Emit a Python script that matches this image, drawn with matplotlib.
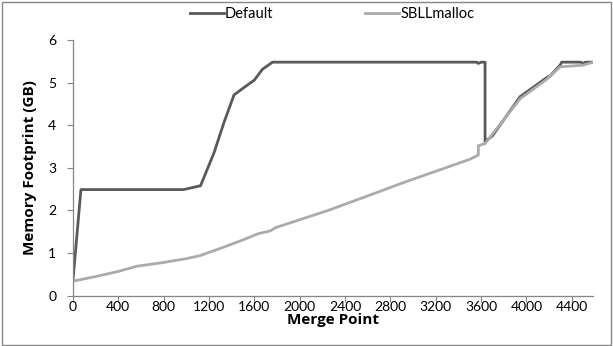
import matplotlib.pyplot as plt
from matplotlib.patches import Rectangle

plt.rcParams['font.family'] = ['Lato', 'DejaVu Sans']

# Default allocator
x_default = [0, 70, 975, 1125, 1245, 1330, 1420, 1480, 1600, 1670, 1760,
             3560, 3576, 3600, 3635, 3635, 3700, 3944, 4180, 4210, 4300, 4311,
             4480, 4500, 4520, 4590]
y_default = [0.37, 2.49, 2.49, 2.58, 3.36, 4.05, 4.71, 4.83, 5.06, 5.31, 5.48,
             5.48, 5.45, 5.48, 5.48, 3.62, 3.75, 4.67, 5.12, 5.16, 5.42, 5.48,
             5.48, 5.45, 5.48, 5.48]

# SBLLmalloc
x_sbll = [0, 200, 400, 480, 560, 800, 1000, 1120, 1300, 1480, 1640, 1740,
          1790, 2250, 2700, 2890, 3500, 3576, 3576, 3635, 3944, 4180, 4297,
          4500, 4590]
y_sbll = [0.34, 0.45, 0.57, 0.63, 0.69, 0.78, 0.87, 0.94, 1.11, 1.29, 1.46,
          1.52, 1.60, 2.00, 2.44, 2.63, 3.20, 3.30, 3.52, 3.57, 4.62, 5.08,
          5.37, 5.41, 5.48]

fig = plt.figure(figsize=(6.13, 3.46), dpi=100)
ax = fig.add_axes([73 / 613, 1 - 295.7 / 346, (593.3 - 73) / 613, (295.7 - 40) / 346])

ax.plot(x_default, y_default, color='#595959', lw=2.0, label='Default')
ax.plot(x_sbll, y_sbll, color='#ababab', lw=2.0, label='SBLLmalloc')

ax.set_xlim(0, 4590)
ax.set_ylim(0, 6)
ax.set_xticks(range(0, 4401, 400))
ax.set_yticks(range(0, 7))

for s in ['top', 'right']:
    ax.spines[s].set_visible(False)
for s in ['left', 'bottom']:
    ax.spines[s].set_color('#868686')
    ax.spines[s].set_linewidth(0.9)
ax.tick_params(colors='#868686', labelcolor='black', labelsize=10, length=4, width=0.8)
ax.tick_params(axis='x', pad=0)
ax.tick_params(axis='y', pad=8)

ax.set_xlabel('Merge Point', fontsize=11, fontweight='bold', family='Open Sans', labelpad=0)
ax.set_ylabel('Memory Footprint (GB)', fontsize=11, fontweight='bold', family='Open Sans',
              labelpad=8)

fig.legend(loc='center', bbox_to_anchor=(0.542, 1 - 14 / 346), ncol=2, frameon=False,
           fontsize=10.5, handlelength=2.3, handletextpad=0.1, columnspacing=6.3)

fig.patches.append(Rectangle((0.003, 0.004), 0.994, 0.99, transform=fig.transFigure,
                             fill=False, edgecolor='#868686', lw=1))

fig.savefig('out.png', dpi=100)
